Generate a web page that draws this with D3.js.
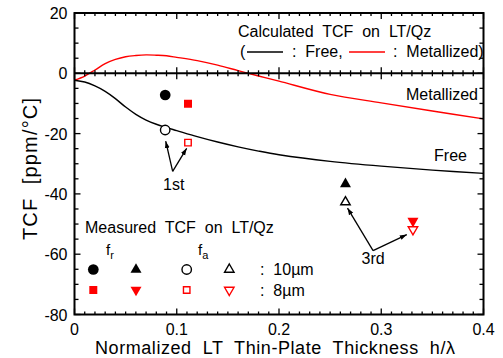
<!DOCTYPE html>
<html>
<head>
<meta charset="utf-8">
<script src="https://cdn.jsdelivr.net/npm/d3@7"></script>
<style>
  body { margin: 0; background: #fff; }
  svg text { font-family: "Liberation Sans", Arial, sans-serif; fill: #000; white-space: pre; }
</style>
</head>
<body>
<div id="chart"></div>
<script>
//------------------------DATA------------------------//
const thickness = [0, 0.01, 0.02, 0.03, 0.04, 0.05, 0.06, 0.07, 0.08, 0.09, 0.10, 0.12, 0.14, 0.16, 0.18, 0.20, 0.25, 0.30, 0.35, 0.40];
const tcfFree = [-2.3, -2.9, -4.2, -6.0, -8.4, -11.2, -13.6, -15.5, -16.9, -18.0, -19.0, -21.0, -22.8, -24.4, -25.8, -27.0, -29.2, -30.8, -32.1, -33.2];
const tcfMetal = [-2.3, -0.9, 1.1, 3.2, 4.6, 5.5, 5.9, 6.1, 6.0, 5.8, 5.3, 4.2, 2.7, 0.9, -0.9, -2.6, -7.0, -9.8, -12.5, -15.1];

// measured points: [h/lambda, TCF]
const fr10 = [[0.0887, -7.2], [0.265, -36.7]];
const fa10 = [[0.0887, -18.8], [0.265, -42.7]];
const fr8 = [[0.111, -10.1], [0.331, -49.0]];
const fa8 = [[0.111, -23.0], [0.331, -51.8]];

const xTicks = [0, 0.1, 0.2, 0.3, 0.4];
const yTicks = [-80, -60, -40, -20, 0, 20];

// annotation arrows (data units): tail -> tip
const arrows = [
  {from: [0.096, -32.5], to: [0.0892, -22.5]},
  {from: [0.096, -32.5], to: [0.1097, -24.9]},
  {from: [0.292, -58.8], to: [0.267, -44.7]},
  {from: [0.292, -58.8], to: [0.325, -53.5]}
];
const modeLabels = [{x: 0.097, y: -38.7, text: "1st"}, {x: 0.292, y: -63.2, text: "3rd"}];

//------------------------SVG------------------------//
const width = 503, height = 358;
const margin = {top: 13, right: 19.5, bottom: 43.5, left: 74.5};
const svg = d3.select("#chart").append("svg")
  .attr("width", width).attr("height", height);

const x = d3.scaleLinear().domain([0, 0.4]).range([margin.left, width - margin.right]);
const y = d3.scaleLinear().domain([-80, 20]).range([height - margin.bottom, margin.top]);

svg.append("defs").append("marker")
  .attr("id", "head")
  .attr("viewBox", "0 0 10 10")
  .attr("refX", 10).attr("refY", 5)
  .attr("markerWidth", 7).attr("markerHeight", 7)
  .attr("markerUnits", "userSpaceOnUse")
  .attr("orient", "auto")
  .append("path").attr("d", "M0,1.5L10,5L0,8.5Z").attr("fill", "#000");

//------------------------CURVES------------------------//
const line = d3.line().curve(d3.curveCatmullRom)
  .x((d, i) => x(thickness[i])).y(d => y(d));

svg.append("path").attr("d", line(tcfMetal))
  .attr("fill", "none").attr("stroke", "#f00").attr("stroke-width", 1.4);
svg.append("path").attr("d", line(tcfFree))
  .attr("fill", "none").attr("stroke", "#000").attr("stroke-width", 1.4);

//------------------------AXES------------------------//
const xMinor = d3.range(0, 0.4001, 0.01);
const yMinor = d3.range(-80, 20.01, 5);
const ax = svg.append("g").attr("stroke", "#000");

// bottom & top ticks (inward)
xMinor.forEach(v => {
  const major = Math.abs(v * 10 - Math.round(v * 10)) < 1e-6;
  const len = major ? 6 : 3;
  ax.append("line").attr("x1", x(v)).attr("x2", x(v))
    .attr("y1", y(-80)).attr("y2", y(-80) - len).attr("stroke-width", 1.3);
  ax.append("line").attr("x1", x(v)).attr("x2", x(v))
    .attr("y1", y(20)).attr("y2", y(20) + len).attr("stroke-width", 1.3);
  // zero line ticks both sides
  ax.append("line").attr("x1", x(v)).attr("x2", x(v))
    .attr("y1", y(0) - len).attr("y2", y(0) + len).attr("stroke-width", 1.3);
});
yMinor.forEach(v => {
  const major = v % 20 === 0;
  const len = major ? 6 : 4;
  ax.append("line").attr("x1", x(0)).attr("x2", x(0) + len)
    .attr("y1", y(v)).attr("y2", y(v)).attr("stroke-width", 1.3);
  ax.append("line").attr("x1", x(0.4)).attr("x2", x(0.4) - len)
    .attr("y1", y(v)).attr("y2", y(v)).attr("stroke-width", 1.3);
});

svg.append("rect")
  .attr("x", x(0)).attr("y", y(20))
  .attr("width", x(0.4) - x(0)).attr("height", y(-80) - y(20))
  .attr("fill", "none").attr("stroke", "#000").attr("stroke-width", 2);
svg.append("line")
  .attr("x1", x(0)).attr("x2", x(0.4)).attr("y1", y(0)).attr("y2", y(0))
  .attr("stroke", "#000").attr("stroke-width", 2);

svg.selectAll(".xt").data(xTicks).enter().append("text")
  .attr("x", d => x(d)).attr("y", y(-80) + 20)
  .attr("text-anchor", "middle").attr("font-size", 16)
  .text(d => d === 0 ? "0" : d3.format(".1f")(d));
svg.selectAll(".yt").data(yTicks).enter().append("text")
  .attr("x", x(0) - 7).attr("y", d => y(d) + 6)
  .attr("text-anchor", "end").attr("font-size", 16)
  .text(d => d);

svg.append("text")
  .attr("x", 95).attr("y", 354)
  .attr("font-size", 18).attr("textLength", 360).attr("lengthAdjust", "spacing")
  .text("Normalized  LT  Thin-Plate  Thickness  h/\u03bb");
svg.append("text")
  .attr("transform", "translate(37,240) rotate(-90)")
  .attr("font-size", 20).attr("textLength", 142).attr("lengthAdjust", "spacing")
  .text("TCF  [ppm/\u00b0C]");

//------------------------POINTS------------------------//
const sym = (type, size) => d3.symbol().type(type).size(size)();
// triangle with side sqrt(size); dir 1 = up, -1 = down
const tri = dir => ({draw(ctx, size) {
  const s = Math.sqrt(size), h = s * 0.866;
  ctx.moveTo(0, -dir * h * 2 / 3);
  ctx.lineTo(s / 2, dir * h / 3);
  ctx.lineTo(-s / 2, dir * h / 3);
  ctx.closePath();
}});
const triUp = tri(1), triDown = tri(-1);

function drawPts(data, type, size, color, filled) {
  svg.selectAll(null).data(data).enter().append("path")
    .attr("transform", d => `translate(${x(d[0])},${y(d[1])})`)
    .attr("d", sym(type, size))
    .attr("fill", filled ? color : "#fff")
    .attr("stroke", color).attr("stroke-width", filled ? 0 : 1.4);
}
// first mode circles/squares, third mode triangles
drawPts([fr10[0]], d3.symbolCircle, 90, "#000", true);
drawPts([fa10[0]], d3.symbolCircle, 70, "#000", false);
drawPts([fr8[0]], d3.symbolSquare, 64, "#f00", true);
drawPts([fa8[0]], d3.symbolSquare, 42, "#f00", false);
drawPts([fr10[1]], triUp, 121, "#000", true);
drawPts([fa10[1]], triUp, 90, "#000", false);
drawPts([fr8[1]], triDown, 121, "#f00", true);
drawPts([fa8[1]], triDown, 90, "#f00", false);

//------------------------ANNOTATIONS------------------------//
svg.selectAll(".arr").data(arrows).enter().append("line")
  .attr("x1", d => x(d.from[0])).attr("y1", d => y(d.from[1]))
  .attr("x2", d => x(d.to[0])).attr("y2", d => y(d.to[1]))
  .attr("stroke", "#000").attr("stroke-width", 1.3)
  .attr("marker-end", "url(#head)");
svg.selectAll(".ml").data(modeLabels).enter().append("text")
  .attr("x", d => x(d.x)).attr("y", d => y(d.y))
  .attr("text-anchor", "middle").attr("font-size", 16)
  .text(d => d.text);

svg.append("text").attr("x", 478).attr("y", 100)
  .attr("text-anchor", "end").attr("font-size", 16).text("Metallized");
svg.append("text").attr("x", 467).attr("y", 161)
  .attr("text-anchor", "end").attr("font-size", 16).text("Free");

//------------------------TOP LEGEND------------------------//
const calcLeg = svg.append("g").attr("font-size", 16);
calcLeg.append("text").attr("x", 238).attr("y", 37)
  .text("Calculated  TCF  on  LT/Qz");
calcLeg.append("text").attr("x", 240).attr("y", 57).text("(");
calcLeg.append("line").attr("x1", 247).attr("x2", 283).attr("y1", 52).attr("y2", 52)
  .attr("stroke", "#000").attr("stroke-width", 1.4);
calcLeg.append("text").attr("x", 292).attr("y", 57).text(":  Free,");
calcLeg.append("line").attr("x1", 349).attr("x2", 385).attr("y1", 52).attr("y2", 52)
  .attr("stroke", "#f00").attr("stroke-width", 1.4);
calcLeg.append("text").attr("x", 393).attr("y", 57).text(":  Metallized)");

//------------------------BOTTOM LEGEND------------------------//
const leg = svg.append("g").attr("font-size", 16);
leg.append("text").attr("x", 85).attr("y", 233)
  .text("Measured  TCF  on  LT/Qz");
const fr = leg.append("text").attr("x", 106).attr("y", 255).attr("font-size", 15);
fr.append("tspan").text("f");
fr.append("tspan").attr("font-size", 11).attr("dy", 4).text("r");
const fa = leg.append("text").attr("x", 198).attr("y", 255).attr("font-size", 15);
fa.append("tspan").text("f");
fa.append("tspan").attr("font-size", 11).attr("dy", 4).text("a");

const legCols = [93.3, 136, 186.7, 229.3];
const legRows = [269.5, 290];
const legSyms = [
  [[d3.symbolCircle, 90, "#000", true], [triUp, 121, "#000", true], [d3.symbolCircle, 70, "#000", false], [triUp, 90, "#000", false]],
  [[d3.symbolSquare, 64, "#f00", true], [triDown, 121, "#f00", true], [d3.symbolSquare, 42, "#f00", false], [triDown, 90, "#f00", false]]
];
legSyms.forEach((row, r) => row.forEach((s, c) => {
  leg.append("path")
    .attr("transform", `translate(${legCols[c]},${legRows[r]})`)
    .attr("d", sym(s[0], s[1]))
    .attr("fill", s[3] ? s[2] : "#fff")
    .attr("stroke", s[2]).attr("stroke-width", s[3] ? 0 : 1.4);
}));
leg.append("text").attr("x", 260).attr("y", 275).text(":  10\u00b5m");
leg.append("text").attr("x", 260).attr("y", 296).text(":  8\u00b5m");
</script>
</body>
</html>
